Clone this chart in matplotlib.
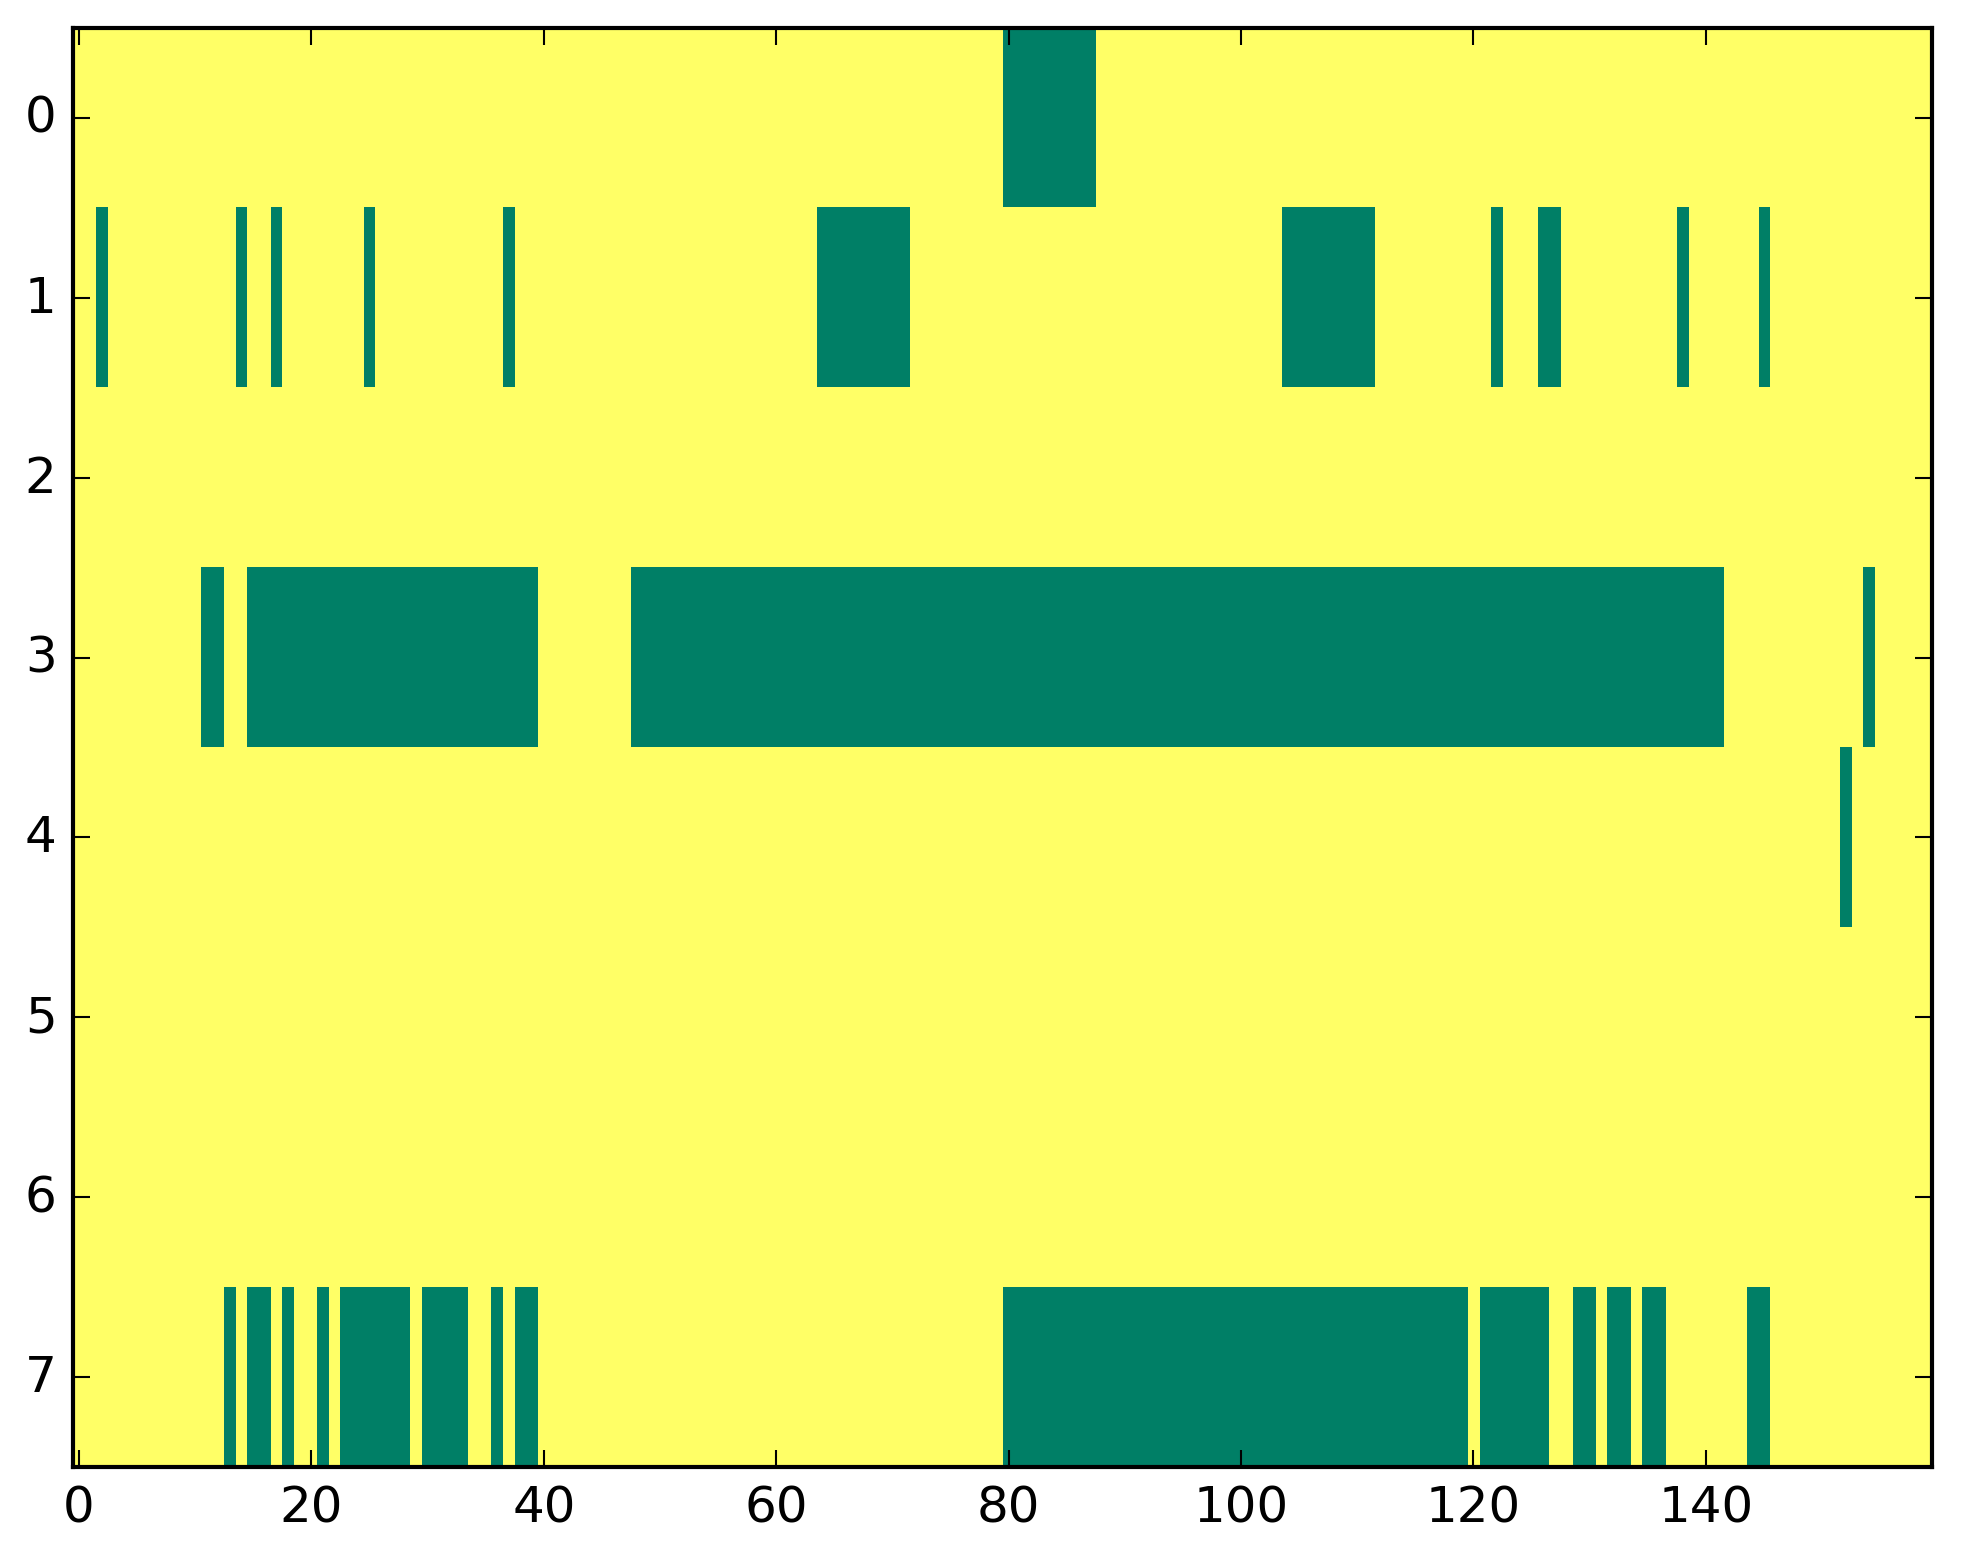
import numpy as np
import matplotlib
matplotlib.use("Agg")
import matplotlib.pyplot as plt

# 8 rows x 160 columns, 1 everywhere except these runs of 0 (first, last column)
n_rows = 8
n_cols = 160
row0 = [(80, 87)]
row1 = [(2, 2), (14, 14), (17, 17), (25, 25), (37, 37), (64, 71),
        (104, 111), (122, 122), (126, 127), (138, 138), (145, 145)]
row2 = []
row3 = [(11, 12), (15, 39), (48, 141), (154, 154)]
row4 = [(152, 152)]
row5 = []
row6 = []
row7 = [(13, 13), (15, 16), (18, 18), (21, 21), (23, 28), (30, 33), (36, 36),
        (38, 39), (80, 119), (121, 126), (129, 130), (132, 133), (135, 136),
        (144, 145)]
zero_runs = [row0, row1, row2, row3, row4, row5, row6, row7]

# build the matrix
grid = np.ones((n_rows, n_cols))
for r, runs in enumerate(zero_runs):
    for a, b in runs:
        grid[r, a:b + 1] = 0

plt.style.use("classic")
fig = plt.figure(figsize=(1963 / 300, 1564 / 300), dpi=300)
ax = fig.add_axes([0.0373, 0.0614, 0.9471, 0.9201])
ax.imshow(grid, cmap="summer", aspect="auto", interpolation="nearest",
          vmin=0, vmax=1)
ax.set_xticks(np.arange(0, 141, 20))
ax.set_yticks(np.arange(0, 8))
ax.tick_params(labelsize=12)

fig.savefig("out.png", dpi=300)
